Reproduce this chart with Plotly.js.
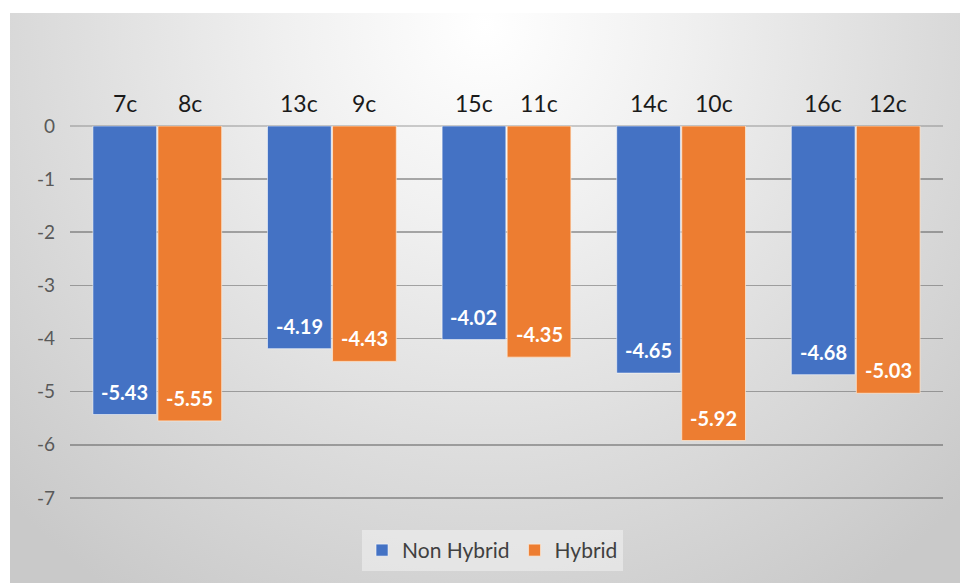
<!DOCTYPE html>
<html>
<head>
<meta charset="utf-8">
<script src="https://cdn.plot.ly/plotly-3.0.1.min.js"></script>
<style>
  html, body { margin: 0; padding: 0; background: #ffffff; width: 960px; height: 583px; overflow: hidden; }
  #chart {
    position: absolute; left: 10px; top: 13px; width: 950px; height: 570px;
    background: radial-gradient(ellipse 70% 120% at 50% 2%, #ffffff 0%, #f0f0f0 30%, #dcdcdc 65%, #c9c9c9 100%);
  }
</style>
</head>
<body>
<div id="chart"></div>
<script>
// ---- data ----
const groups = ['G1', 'G2', 'G3', 'G4', 'G5'];
const nonHybridValues = [-5.43, -4.19, -4.02, -4.65, -4.68];
const hybridValues = [-5.55, -4.43, -4.35, -5.92, -5.03];
const nonHybridLabels = ['7c', '13c', '15c', '14c', '16c'];
const hybridLabels = ['8c', '9c', '11c', '10c', '12c'];
const yTickValues = [0, -1, -2, -3, -4, -5, -6, -7];

// ---- style ----
const BLUE = '#4472C4';
const ORANGE = '#ED7D31';
const BARGAP = 0.255;
const off = (1 - BARGAP) / 4;
const FONT = 'Lato, "Open Sans", sans-serif';

const traces = [
  {
    type: 'bar', name: 'Non Hybrid', x: groups, y: nonHybridValues,
    marker: { color: BLUE, line: { color: 'rgba(255,255,255,0.55)', width: 1 } },
    hoverinfo: 'skip'
  },
  {
    type: 'bar', name: 'Hybrid', x: groups, y: hybridValues,
    marker: { color: ORANGE, line: { color: 'rgba(255,235,215,0.7)', width: 1 } },
    hoverinfo: 'skip'
  }
];

const annotations = [];
groups.forEach((g, i) => {
  // labels above bars
  annotations.push({ x: i - off, y: 0, xref: 'x', yref: 'y', text: nonHybridLabels[i], showarrow: false,
    yanchor: 'middle', yshift: 23, font: { family: FONT, size: 23, color: '#1a1a1a' } });
  annotations.push({ x: i + off, y: 0, xref: 'x', yref: 'y', text: hybridLabels[i], showarrow: false,
    yanchor: 'middle', yshift: 23, font: { family: FONT, size: 23, color: '#1a1a1a' } });
  // value labels inside end
  annotations.push({ x: i - off, y: nonHybridValues[i], xref: 'x', yref: 'y', text: nonHybridValues[i].toFixed(2),
    showarrow: false, yanchor: 'middle', yshift: 23, font: { family: FONT, size: 20, color: '#ffffff', weight: 'bold' } });
  annotations.push({ x: i + off, y: hybridValues[i], xref: 'x', yref: 'y', text: hybridValues[i].toFixed(2),
    showarrow: false, yanchor: 'middle', yshift: 23, font: { family: FONT, size: 20, color: '#ffffff', weight: 'bold' } });
});

const layout = {
  width: 950, height: 570,
  margin: { l: 60, r: 17, t: 113, b: 84 },
  paper_bgcolor: 'rgba(0,0,0,0)',
  plot_bgcolor: 'rgba(0,0,0,0)',
  barmode: 'group',
  bargap: BARGAP,
  bargroupgap: 0.02,
  showlegend: true,
  legend: {
    orientation: 'h', x: 0.484, xanchor: 'center', y: -0.083, yanchor: 'top',
    bgcolor: 'rgba(240,240,240,0.6)', borderwidth: 0,
    font: { family: FONT, size: 21, color: '#404040' },
    itemwidth: 30
  },
  xaxis: {
    type: 'category', showticklabels: false, ticks: '', showgrid: false, zeroline: false, showline: false,
    range: [-0.5, 4.5]
  },
  yaxis: {
    range: [-7.02, 0], tickvals: yTickValues, ticktext: yTickValues.map(String),
    showgrid: true, gridcolor: 'rgba(90,90,90,0.5)', gridwidth: 1.6,
    zeroline: true, zerolinecolor: 'rgba(95,95,95,0.3)', zerolinewidth: 1.6,
    showline: false, ticks: '',
    ticklabelstandoff: 14,
    tickfont: { family: FONT, size: 19, color: '#595959' }
  },
  annotations: annotations
};

Plotly.newPlot('chart', traces, layout, { displayModeBar: false, staticPlot: true });
</script>
</body>
</html>
